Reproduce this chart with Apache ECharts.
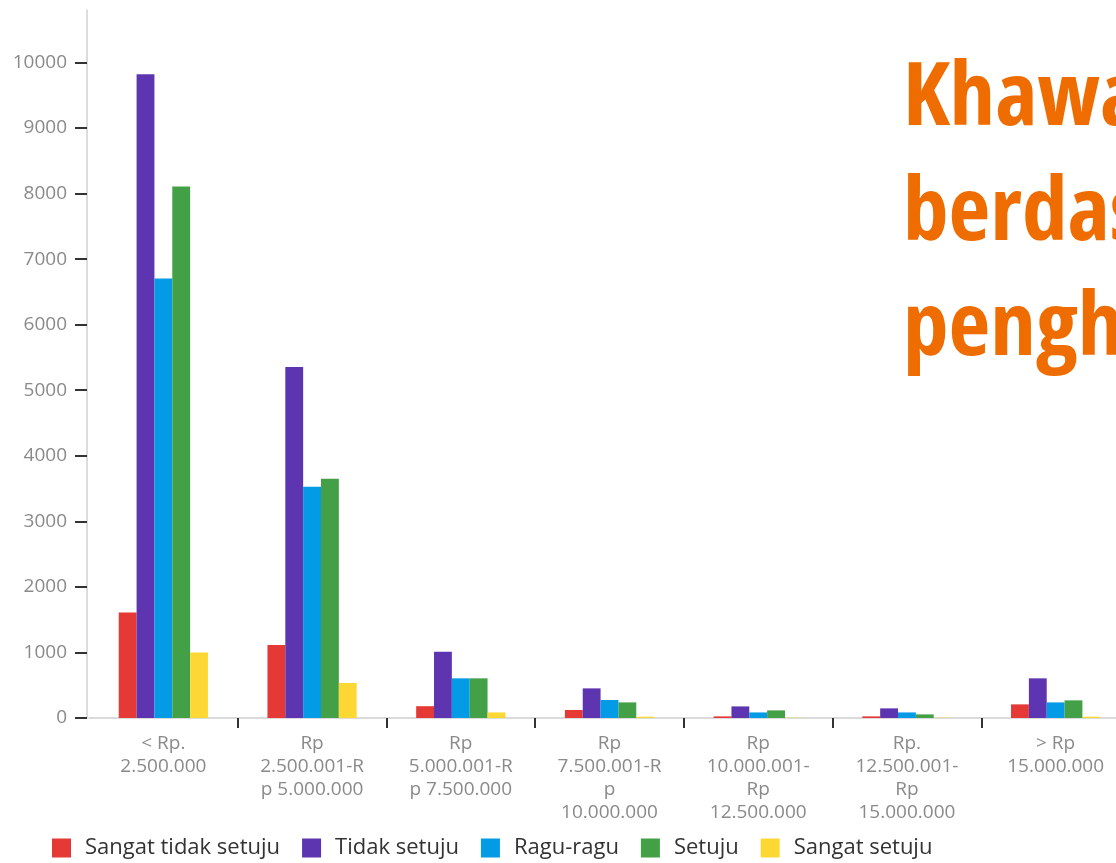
<!DOCTYPE html>
<html>
<head>
<meta charset="utf-8">
<script src="https://cdn.jsdelivr.net/npm/echarts@6/dist/echarts.min.js"></script>
<style>
html,body{margin:0;padding:0;background:#fff;}
#chart{width:1116px;height:863px;}
</style>
</head>
<body>
<div id="chart"></div>
<script>
const categories = [
  "< Rp.\n2.500.000",
  "Rp\n2.500.001-R\np 5.000.000",
  "Rp\n5.000.001-R\np 7.500.000",
  "Rp\n7.500.001-R\np\n10.000.000",
  "Rp\n10.000.001-\nRp\n12.500.000",
  "Rp.\n12.500.001-\nRp\n15.000.000",
  "> Rp\n15.000.000"
];
const seriesNames = ["Sangat tidak setuju", "Tidak setuju", "Ragu-ragu", "Setuju", "Sangat setuju"];
const sangatTidakSetuju = [1610, 1115, 180, 122, 25, 25, 208];
const tidakSetuju       = [9820, 5355, 1010, 452, 177, 147, 605];
const raguRagu          = [6705, 3527, 605, 275, 85, 85, 238];
const setuju            = [8107, 3649, 605, 238, 116, 55, 269];
const sangatSetuju      = [1000, 534, 85, 20, 5, 4, 20];
const yTicks = [0, 1000, 2000, 3000, 4000, 5000, 6000, 7000, 8000, 9000, 10000];
const titleLines = ["Khawatir", "berdasarkan", "penghasilan"];
const colors = ["#E53935", "#5E35B1", "#039BE5", "#43A047", "#FDD835"];

const seriesData = [sangatTidakSetuju, tidakSetuju, raguRagu, setuju, sangatSetuju];
const chart = echarts.init(document.getElementById('chart'));
const font = '"Open Sans", "Noto Sans", sans-serif';

// condensed bold title font; horizontal scale fitted so the word width matches the reference look
const titleFont = 'bold condensed 88px "Open Sans", "Noto Sans", sans-serif';
const mctx = document.createElement('canvas').getContext('2d');
mctx.font = titleFont;
const khawW = mctx.measureText('Khaw').width || 197;
const titleScale = Math.max(0.6, Math.min(1.2, 197 / khawW));

chart.setOption({
  animation: false,
  color: colors,
  grid: { left: 89, right: -14, top: 10, bottom: 145, containLabel: false, outerBoundsMode: 'none' },
  graphic: titleLines.map((t, i) => ({
    type: 'text',
    x: 903,
    y: 100 + i * 115,
    scaleX: titleScale,
    originX: 0,
    originY: 0,
    silent: true,
    style: {
      text: t,
      fill: '#EF6C00',
      font: titleFont,
      verticalAlign: 'middle',
      align: 'left'
    }
  })),
  legend: {
    left: 47,
    top: 832,
    itemWidth: 19,
    itemHeight: 19,
    itemGap: 22,
    icon: 'rect',
    textStyle: { fontFamily: font, fontSize: 22, color: '#333', padding: [0, 0, 0, 9] },
    data: seriesNames
  },
  xAxis: {
    type: 'category',
    data: categories,
    boundaryGap: true,
    axisLine: { lineStyle: { color: '#d0d0d0', width: 1.5 } },
    axisTick: {
      show: true,
      length: 10,
      lineStyle: { color: '#333', width: 2 },
      interval: function (idx) { return idx !== 0; }
    },
    axisLabel: {
      interval: 0,
      margin: 14,
      color: '#8a8a8a',
      fontFamily: font,
      fontSize: 19,
      lineHeight: 23
    }
  },
  yAxis: {
    type: 'value',
    min: 0,
    max: 10800,
    interval: 1000,
    offset: 2,
    splitLine: { show: false },
    axisLine: { show: true, lineStyle: { color: '#d0d0d0', width: 1.5 } },
    axisTick: {
      show: true,
      length: 12,
      customValues: yTicks,
      lineStyle: { color: '#333', width: 2 }
    },
    axisLabel: {
      customValues: yTicks,
      margin: 20,
      color: '#8a8a8a',
      fontFamily: font,
      fontSize: 19,
      formatter: function (v) { return String(v); }
    }
  },
  series: seriesNames.map((name, i) => ({
    name: name,
    type: 'bar',
    data: seriesData[i],
    barGap: '0%',
    barCategoryGap: '40%'
  }))
});
</script>
</body>
</html>
